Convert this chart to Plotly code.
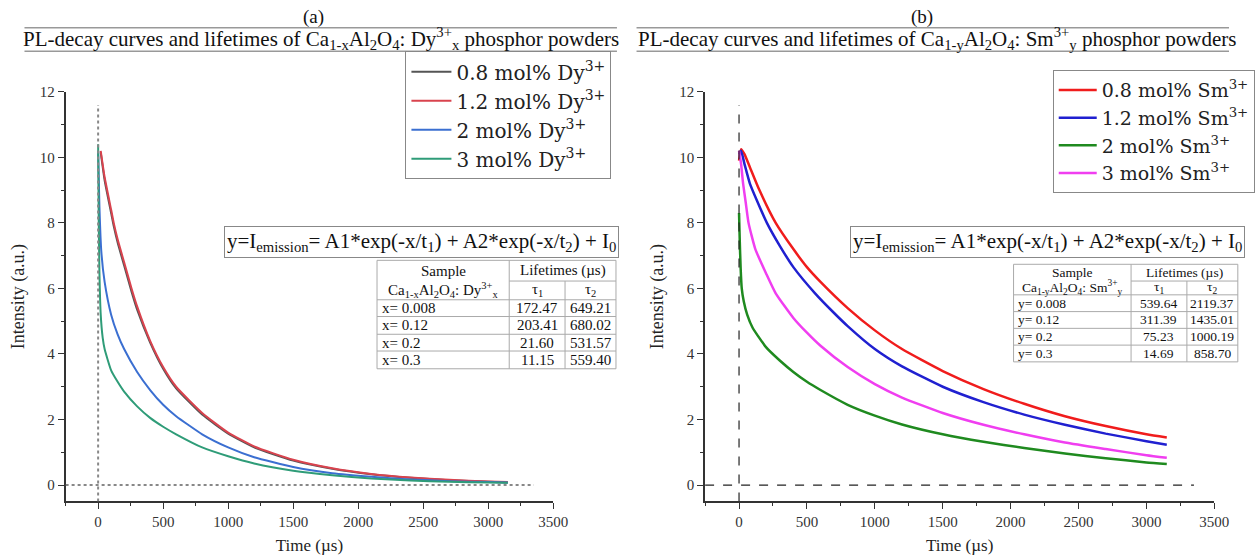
import plotly.graph_objects as go

W, H = 1255, 560
FONT = "Liberation Serif"
LEGFONT = "DejaVu Serif"

# ---------------- Data: panel (a) Ca1-xAl2O4:Dy3+ ----------------
t_dy_08 = [20, 50, 100, 120, 150, 200, 257, 300, 400, 500, 600, 800, 1000, 1200, 1500, 1800, 2100, 2400, 2700, 3000, 3150]
i_dy_08 = [10.15, 9.3, 8.3, 7.9, 7.4, 6.7, 5.9, 5.35, 4.35, 3.55, 2.95, 2.15, 1.57, 1.15, 0.75, 0.5, 0.33, 0.22, 0.15, 0.1, 0.08]
t_dy_12 = [20, 50, 100, 120, 150, 200, 257, 300, 400, 500, 600, 800, 1000, 1200, 1500, 1800, 2100, 2400, 2700, 3000, 3150]
i_dy_12 = [10.2, 9.4, 8.4, 8.0, 7.5, 6.8, 6.0, 5.45, 4.4, 3.6, 3.0, 2.2, 1.6, 1.18, 0.77, 0.51, 0.34, 0.23, 0.16, 0.11, 0.09]
t_dy_2 = [0, 10, 25, 50, 100, 150, 200, 300, 400, 500, 600, 800, 1000, 1200, 1500, 1800, 2100, 2400, 2700, 3000, 3150]
i_dy_2 = [10.2, 8.5, 7.1, 6.2, 5.2, 4.6, 4.15, 3.45, 2.9, 2.45, 2.1, 1.55, 1.15, 0.85, 0.55, 0.36, 0.25, 0.17, 0.12, 0.09, 0.08]
t_dy_3 = [0, 5, 10, 20, 35, 50, 100, 150, 200, 300, 400, 500, 600, 800, 1000, 1200, 1500, 1800, 2100, 2400, 2700, 3000, 3150]
i_dy_3 = [10.4, 8.0, 6.5, 5.2, 4.5, 4.15, 3.5, 3.15, 2.85, 2.4, 2.05, 1.78, 1.55, 1.15, 0.88, 0.66, 0.44, 0.3, 0.2, 0.14, 0.1, 0.08, 0.07]

names_a = ["0.8 mol% Dy<sup>3+</sup>", "1.2 mol% Dy<sup>3+</sup>", "2 mol% Dy<sup>3+</sup>", "3 mol% Dy<sup>3+</sup>"]
colors_a = ["#555555", "#d9434e", "#3b6fd1", "#2f9c78"]

# ---------------- Data: panel (b) Ca1-yAl2O4:Sm3+ ----------------
t_sm_08 = [0, 15, 40, 80, 150, 270, 400, 500, 600, 800, 1000, 1200, 1500, 1800, 2100, 2400, 2700, 3000, 3150]
i_sm_08 = [9.9, 10.25, 10.1, 9.7, 9.0, 8.0, 7.2, 6.65, 6.2, 5.4, 4.72, 4.15, 3.48, 2.93, 2.48, 2.1, 1.8, 1.55, 1.45]
t_sm_12 = [0, 15, 40, 80, 130, 205, 300, 400, 560, 700, 800, 1000, 1200, 1500, 1800, 2100, 2400, 2700, 3000, 3150]
i_sm_12 = [10.1, 10.2, 9.8, 9.2, 8.7, 8.0, 7.3, 6.65, 5.85, 5.25, 4.85, 4.15, 3.62, 3.0, 2.53, 2.15, 1.84, 1.57, 1.34, 1.23]
t_sm_2 = [0, 5, 12, 20, 35, 60, 100, 200, 300, 400, 500, 600, 800, 1000, 1200, 1500, 1800, 2100, 2400, 2700, 3000, 3150]
i_sm_2 = [8.3, 7.5, 6.6, 6.0, 5.6, 5.2, 4.8, 4.2, 3.8, 3.45, 3.15, 2.9, 2.45, 2.12, 1.85, 1.55, 1.32, 1.13, 0.96, 0.82, 0.69, 0.64]
t_sm_3 = [0, 15, 30, 50, 70, 120, 200, 270, 400, 500, 600, 800, 1000, 1200, 1500, 1800, 2100, 2400, 2700, 3000, 3150]
i_sm_3 = [10.2, 9.8, 9.2, 8.6, 8.0, 7.2, 6.45, 5.85, 5.1, 4.65, 4.25, 3.6, 3.08, 2.67, 2.2, 1.84, 1.55, 1.3, 1.1, 0.91, 0.83]

names_b = ["0.8 mol% Sm<sup>3+</sup>", "1.2 mol% Sm<sup>3+</sup>", "2 mol% Sm<sup>3+</sup>", "3 mol% Sm<sup>3+</sup>"]
colors_b = ["#f01c1c", "#2020d0", "#1f8a1f", "#f03ef0"]

# ---------------- Tables ----------------
tab_a_samples = ["x= 0.008", "x= 0.12", "x= 0.2", "x= 0.3"]
tab_a_tau1 = ["172.47", "203.41", "21.60", "11.15"]
tab_a_tau2 = ["649.21", "680.02", "531.57", "559.40"]
tab_b_samples = ["y= 0.008", "y= 0.12", "y= 0.2", "y= 0.3"]
tab_b_tau1 = ["539.64", "311.39", "75.23", "14.69"]
tab_b_tau2 = ["2119.37", "1435.01", "1000.19", "858.70"]

formula = "y=I<sub>emission</sub>= A1*exp(-x/t<sub>1</sub>) + A2*exp(-x/t<sub>2</sub>) + I<sub>0</sub>"
title_a = "PL-decay curves and lifetimes of Ca<sub>1-x</sub>Al<sub>2</sub>O<sub>4</sub>: Dy<sup>3+</sup><sub>x</sub> phosphor powders"
title_b = "PL-decay curves and lifetimes of Ca<sub>1-y</sub>Al<sub>2</sub>O<sub>4</sub>: Sm<sup>3+</sup><sub>y</sub> phosphor powders"

ref_x, ref_y = 0, 0
x_range = [-250, 3500]
y_range = [-0.5, 12]


def px(x):
    return x / W


def py(y):
    return 1 - y / H


def note(text, x, y, size, xanchor="center", **kw):
    return dict(text=text, x=px(x), y=py(y), xref="paper", yref="paper", showarrow=False,
                xanchor=xanchor, yanchor="middle", font=dict(family=FONT, size=size, color="#111"), **kw)


fig = go.Figure()

series_a = [(t_dy_08, i_dy_08), (t_dy_12, i_dy_12), (t_dy_2, i_dy_2), (t_dy_3, i_dy_3)]
for k, (t, i) in enumerate(series_a):
    fig.add_trace(go.Scatter(x=t, y=i, mode="lines", name=names_a[k],
                             line=dict(color=colors_a[k], width=2, shape="spline", smoothing=0.5),
                             xaxis="x", yaxis="y", legend="legend"))

series_b = [(t_sm_08, i_sm_08), (t_sm_12, i_sm_12), (t_sm_2, i_sm_2), (t_sm_3, i_sm_3)]
for k, (t, i) in enumerate(series_b):
    fig.add_trace(go.Scatter(x=t, y=i, mode="lines", name=names_b[k],
                             line=dict(color=colors_b[k], width=2.5, shape="spline", smoothing=0.5),
                             xaxis="x2", yaxis="y2", legend="legend2"))

axis_common = dict(showline=True, linecolor="#333", linewidth=1.5, ticks="outside", ticklen=6,
                   tickwidth=1.2, tickcolor="#333", showgrid=False, zeroline=False,
                   tickfont=dict(family=FONT, size=15, color="#333"))
xdom_a = [px(67), px(565)]
xdom_b = [px(720), px(1240)]
ydom = [py(500.6), py(85)]
xminor = dict(dtick=250, ticks="outside", ticklen=3, tickcolor="#333")
yminor = dict(dtick=1, ticks="outside", ticklen=3, tickcolor="#333")
xtitle = dict(text="Time (µs)", font=dict(family=FONT, size=17, color="#222"), standoff=10)
ytitle = dict(text="Intensity (a.u.)", font=dict(family=FONT, size=18, color="#222"), standoff=11)

fig.update_layout(
    width=W, height=H, margin=dict(l=0, r=0, t=0, b=0),
    paper_bgcolor="white", plot_bgcolor="white",
    font=dict(family=FONT, color="#222"),
    xaxis=dict(domain=xdom_a, range=x_range, dtick=500, anchor="y", minor=xminor, title=xtitle, **axis_common),
    yaxis=dict(domain=ydom, range=y_range, dtick=2, anchor="x", minor=yminor, title=ytitle, **axis_common),
    xaxis2=dict(domain=xdom_b, range=x_range, dtick=500, anchor="y2", minor=xminor, title=xtitle, **axis_common),
    yaxis2=dict(domain=ydom, range=y_range, dtick=2, anchor="x2", minor=yminor, title=ytitle, **axis_common),
    legend=dict(x=px(414), y=py(44), xanchor="left", yanchor="top", bgcolor="white",
                bordercolor="#888", borderwidth=1, font=dict(family=LEGFONT, size=20, color="#222"),
                itemwidth=40, tracegroupgap=0),
    legend2=dict(x=px(1075), y=py(63), xanchor="left", yanchor="top", bgcolor="white",
                 bordercolor="#888", borderwidth=1, font=dict(family=LEGFONT, size=19, color="#222"),
                 itemwidth=38, tracegroupgap=0),
)

shapes = []
annots = []

# reference dashed lines
shapes += [
    dict(type="line", xref="x", yref="y", x0=ref_x, x1=ref_x, y0=y_range[0], y1=11.6,
         line=dict(color="#888", width=2, dash="dot")),
    dict(type="line", xref="x", yref="y", x0=x_range[0], x1=3350, y0=ref_y, y1=ref_y,
         line=dict(color="#888", width=2, dash="dot")),
    dict(type="line", xref="x2", yref="y2", x0=ref_x, x1=ref_x, y0=y_range[0], y1=11.6,
         line=dict(color="#222", width=1.2, dash="dash")),
    dict(type="line", xref="x2", yref="y2", x0=x_range[0], x1=3350, y0=ref_y, y1=ref_y,
         line=dict(color="#222", width=1.2, dash="dash")),
]

# headers
headers = [("(a)", 320, 25, 630, 328, title_a), ("(b)", 942, 650, 1255, 957, title_b)]
for lab, cx, x0, x1, tx, ttl in headers:
    annots.append(note(lab, cx, 9, 19))
    annots.append(note(ttl, tx, 31, 21))
    for yy in (20, 44):
        shapes.append(dict(type="line", xref="paper", yref="paper", x0=px(x0), x1=px(x1),
                           y0=py(yy), y1=py(yy), line=dict(color="#999", width=1.5)))

# formula boxes
for cx, cy in [(430, 237), (1070, 237)]:
    annots.append(note(formula, cx, cy, 21, bordercolor="#888", borderwidth=1, borderpad=2, bgcolor="white"))


def draw_table(left, c1, c2, right, top, hline, subline, row_lines, sub_label, samples, tau1, tau2, fs):
    lc = dict(color="#aaa", width=1)
    bottom = row_lines[-1]

    def hl(y, xa, xb):
        shapes.append(dict(type="line", xref="paper", yref="paper", x0=px(xa), x1=px(xb), y0=py(y), y1=py(y), line=lc))

    def vl(x, ya, yb):
        shapes.append(dict(type="line", xref="paper", yref="paper", x0=px(x), x1=px(x), y0=py(ya), y1=py(yb), line=lc))

    hl(top, left, right)
    hl(hline, c1, right)
    for yy in [subline] + row_lines:
        hl(yy, left, right)
    for xx in (left, c1, right):
        vl(xx, top, bottom)
    vl(c2, hline, bottom)
    annots.append(note("Sample", (left + c1) / 2, (top + hline) / 2, fs))
    annots.append(note(sub_label, (left + c1) / 2, (hline + subline) / 2, fs))
    annots.append(note("Lifetimes (µs)", (c1 + right) / 2, (top + hline) / 2, fs))
    annots.append(note("τ<sub>1</sub>", (c1 + c2) / 2, (hline + subline) / 2, fs))
    annots.append(note("τ<sub>2</sub>", (c2 + right) / 2, (hline + subline) / 2, fs))
    prev = subline
    for k, yy in enumerate(row_lines):
        cy = (prev + yy) / 2
        annots.append(note(samples[k], left + 3, cy, fs, xanchor="left"))
        annots.append(note(tau1[k], (c1 + c2) / 2, cy, fs))
        annots.append(note(tau2[k], (c2 + right) / 2, cy, fs))
        prev = yy


draw_table(385, 520, 577, 629, 256, 277, 296, [313, 331, 348, 366],
           "Ca<sub>1-x</sub>Al<sub>2</sub>O<sub>4</sub>: Dy<sup>3+</sup><sub>x</sub>",
           tab_a_samples, tab_a_tau1, tab_a_tau2, 15)
draw_table(1035, 1155, 1212, 1264, 260, 277, 291, [308, 325, 342, 359],
           "Ca<sub>1-y</sub>Al<sub>2</sub>O<sub>4</sub>: Sm<sup>3+</sup><sub>y</sub>",
           tab_b_samples, tab_b_tau1, tab_b_tau2, 13.5)

fig.update_layout(shapes=shapes, annotations=annots)
fig.write_html("out.html")
